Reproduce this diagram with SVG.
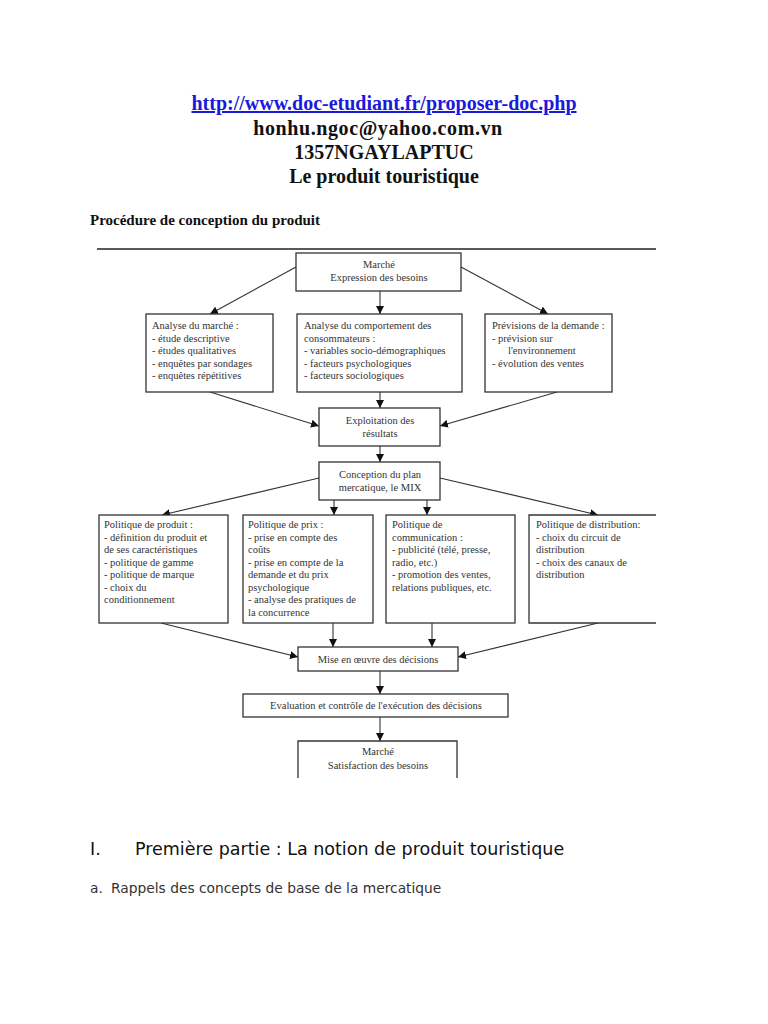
<svg xmlns="http://www.w3.org/2000/svg" width="768" height="1024" viewBox="0 0 768 1024">
<style>
.hd{font-family:"Liberation Serif","Times New Roman",serif;font-weight:bold;font-size:20px;fill:#111;text-anchor:middle}
.link{fill:#1a1adb;text-decoration:underline}
.sub{font-family:"Liberation Serif","Times New Roman",serif;font-weight:bold;font-size:15px;fill:#111}
.box{fill:#fff;stroke:#333;stroke-width:1.3}
.t{font-family:"Liberation Serif","Times New Roman",serif;font-size:10.5px;fill:#333}
.c{text-anchor:middle}
.cn{fill:none;stroke:#333;stroke-width:1.1}
.sec{font-family:"DejaVu Sans",sans-serif;font-size:17.5px;fill:#111}
.para{font-family:"DejaVu Sans",sans-serif;font-size:13.8px;fill:#333}
</style>
<defs>
<marker id="ah" viewBox="0 0 8 8" refX="8" refY="4" markerWidth="8" markerHeight="8" markerUnits="userSpaceOnUse" orient="auto">
<path d="M0,0 L8,4 L0,8 z" fill="#111"/>
</marker>
</defs>
<rect width="768" height="1024" fill="#fff"/>

<g id="header">
<text class="hd link" x="384" y="110">http://www.doc-etudiant.fr/proposer-doc.php</text>
<text class="hd" x="378" y="135" letter-spacing="0.6">honhu.ngoc@yahoo.com.vn</text>
<text class="hd" x="384" y="159">1357NGAYLAPTUC</text>
<text class="hd" x="384" y="183">Le produit touristique</text>
<text class="sub" x="90" y="225">Procédure de conception du produit</text>
<line x1="97" y1="249" x2="656" y2="249" stroke="#222" stroke-width="1.4"/>
</g>

<g id="connectors">
<line class="cn" x1="296" y1="267" x2="210" y2="314" marker-end="url(#ah)"/>
<line class="cn" x1="380" y1="291" x2="380" y2="314" marker-end="url(#ah)"/>
<line class="cn" x1="461" y1="267" x2="548" y2="314" marker-end="url(#ah)"/>
<line class="cn" x1="210" y1="392" x2="319" y2="426" marker-end="url(#ah)"/>
<line class="cn" x1="380" y1="392" x2="380" y2="408" marker-end="url(#ah)"/>
<line class="cn" x1="557" y1="392" x2="440" y2="426" marker-end="url(#ah)"/>
<line class="cn" x1="380" y1="446" x2="380" y2="462" marker-end="url(#ah)"/>
<line class="cn" x1="319" y1="478" x2="162" y2="515" marker-end="url(#ah)"/>
<line class="cn" x1="334" y1="500" x2="334" y2="515" marker-end="url(#ah)"/>
<line class="cn" x1="427" y1="500" x2="427" y2="515" marker-end="url(#ah)"/>
<line class="cn" x1="440" y1="478" x2="598" y2="515" marker-end="url(#ah)"/>
<line class="cn" x1="161" y1="623" x2="298" y2="657" marker-end="url(#ah)"/>
<line class="cn" x1="333" y1="623" x2="333" y2="647" marker-end="url(#ah)"/>
<line class="cn" x1="432" y1="623" x2="432" y2="647" marker-end="url(#ah)"/>
<line class="cn" x1="598" y1="623" x2="458" y2="657" marker-end="url(#ah)"/>
<line class="cn" x1="380" y1="671" x2="380" y2="694" marker-end="url(#ah)"/>
<line class="cn" x1="380" y1="717" x2="380" y2="741" marker-end="url(#ah)"/>
</g>

<g id="marche-expression">
<rect class="box" x="296" y="253" width="165" height="38"/>
<text class="t c" x="379" y="268">Marché</text>
<text class="t c" x="379" y="281">Expression des besoins</text>
</g>

<g id="analyse-marche">
<rect class="box" x="146" y="314" width="127" height="78"/>
<text class="t" x="152" y="329">Analyse du marché :<tspan x="152" dy="12.6">- étude descriptive</tspan><tspan x="152" dy="12.6">- études qualitatives</tspan><tspan x="152" dy="12.6">- enquêtes par sondages</tspan><tspan x="152" dy="12.6">- enquêtes répétitives</tspan></text>
</g>

<g id="analyse-comportement">
<rect class="box" x="297" y="314" width="165" height="78"/>
<text class="t" x="304" y="329">Analyse du comportement des<tspan x="304" dy="12.6">consommateurs :</tspan><tspan x="304" dy="12.6">- variables socio-démographiques</tspan><tspan x="304" dy="12.6">- facteurs psychologiques</tspan><tspan x="304" dy="12.6">- facteurs sociologiques</tspan></text>
</g>

<g id="previsions">
<rect class="box" x="485" y="314" width="127" height="78"/>
<text class="t" x="492" y="329">Prévisions de la demande :<tspan x="492" dy="12.6">- prévision sur</tspan><tspan x="508" dy="12.6">l'environnement</tspan><tspan x="492" dy="12.6">- évolution des ventes</tspan></text>
</g>

<g id="exploitation">
<rect class="box" x="319" y="408" width="121" height="38"/>
<text class="t c" x="380" y="424">Exploitation des</text>
<text class="t c" x="380" y="437">résultats</text>
</g>

<g id="conception">
<rect class="box" x="319" y="462" width="121" height="38"/>
<text class="t c" x="380" y="478">Conception du plan</text>
<text class="t c" x="380" y="491">mercatique, le MIX</text>
</g>

<g id="politique-produit">
<rect class="box" x="99" y="515" width="129" height="108"/>
<text class="t" x="104" y="528">Politique de produit :<tspan x="104" dy="12.5">- définition du produit et</tspan><tspan x="104" dy="12.5">de ses caractéristiques</tspan><tspan x="104" dy="12.5">- politique de gamme</tspan><tspan x="104" dy="12.5">- politique de marque</tspan><tspan x="104" dy="12.5">- choix du</tspan><tspan x="104" dy="12.5">conditionnement</tspan></text>
</g>

<g id="politique-prix">
<rect class="box" x="243" y="515" width="130" height="108"/>
<text class="t" x="248" y="528">Politique de prix :<tspan x="248" dy="12.5">- prise en compte des</tspan><tspan x="248" dy="12.5">coûts</tspan><tspan x="248" dy="12.5">- prise en compte de la</tspan><tspan x="248" dy="12.5">demande et du prix</tspan><tspan x="248" dy="12.5">psychologique</tspan><tspan x="248" dy="12.5">- analyse des pratiques de</tspan><tspan x="248" dy="12.5">la concurrence</tspan></text>
</g>

<g id="politique-communication">
<rect class="box" x="386" y="515" width="129" height="108"/>
<text class="t" x="392" y="528">Politique de<tspan x="392" dy="12.5">communication :</tspan><tspan x="392" dy="12.5">- publicité (télé, presse,</tspan><tspan x="392" dy="12.5">radio, etc.)</tspan><tspan x="392" dy="12.5">- promotion des ventes,</tspan><tspan x="392" dy="12.5">relations publiques, etc.</tspan></text>
</g>

<g id="politique-distribution">
<path class="box" d="M656,515 H529 V623 H656"/>
<text class="t" x="536" y="528">Politique de distribution:<tspan x="536" dy="12.5">- choix du circuit de</tspan><tspan x="536" dy="12.5">distribution</tspan><tspan x="536" dy="12.5">- choix des canaux de</tspan><tspan x="536" dy="12.5">distribution</tspan></text>
</g>

<g id="mise-en-oeuvre">
<rect class="box" x="298" y="647" width="160" height="24"/>
<text class="t c" x="378" y="663">Mise en œuvre des décisions</text>
</g>

<g id="evaluation">
<rect class="box" x="243" y="694" width="265" height="23"/>
<text class="t c" x="376" y="709">Evaluation et contrôle de l'exécution des décisions</text>
</g>

<g id="marche-satisfaction">
<path class="box" d="M298,778 V741 H457 V778"/>
<text class="t c" x="378" y="755">Marché</text>
<text class="t c" x="378" y="769">Satisfaction des besoins</text>
</g>

<g id="sections">
<text class="sec" x="90" y="855">I.</text>
<text class="sec" x="135" y="855">Première partie : La notion de produit touristique</text>
<text class="para" x="90" y="893">a.</text>
<text class="para" x="111" y="893">Rappels des concepts de base de la mercatique</text>
</g>
</svg>
